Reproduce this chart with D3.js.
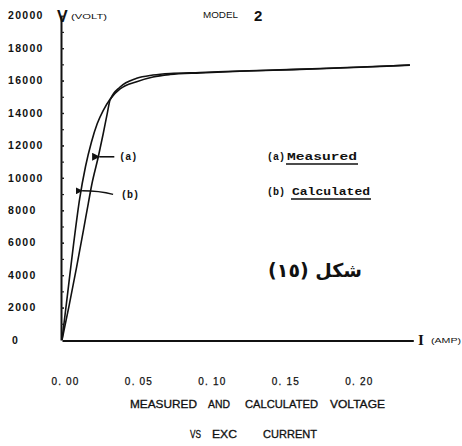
<!DOCTYPE html>
<html>
<head>
<meta charset="utf-8">
<script src="https://cdn.jsdelivr.net/npm/d3@7"></script>
<style>
  html, body { margin: 0; padding: 0; background: #fff; }
  svg { display: block; }
  text { fill: #111; }
</style>
</head>
<body>
<svg id="chart" width="462" height="446"></svg>
<script>
// Excitation current (A) and terminal voltage (V) for model 2
const measuredCurrent = [0, 0.0048, 0.0100, 0.0146, 0.0179, 0.0202, 0.0247, 0.0281, 0.0308, 0.0327, 0.0395, 0.0508, 0.0619, 0.0735, 0.0939, 0.1211, 0.1483, 0.1755, 0.2075, 0.2367];
const measuredVoltage = [0, 2100, 4520, 6780, 8430, 9560, 11300, 12750, 13980, 14800, 15600, 16140, 16340, 16440, 16500, 16590, 16660, 16740, 16850, 16960];

const calculatedCurrent = [0, 0.004, 0.008, 0.012, 0.016, 0.020, 0.024, 0.028, 0.0327, 0.0395, 0.0508, 0.0619, 0.0735, 0.0939, 0.1211, 0.1483, 0.1755, 0.2075, 0.2367];
const calculatedVoltage = [0, 3000, 6000, 8700, 10700, 12200, 13350, 14150, 14850, 15480, 15930, 16220, 16370, 16470, 16570, 16650, 16730, 16840, 16950];

const xTicks = [0, 0.05, 0.10, 0.15, 0.20];
const yTicks = [0, 2000, 4000, 6000, 8000, 10000, 12000, 14000, 16000, 18000, 20000];
const yMinorTicks = d3.range(1000, 20000, 1000);

// where the "(a)" / "(b)" pointers touch their curves
const pointerA = { current: 0.0247, voltage: 11300 };
const pointerB = { current: 0.0130, voltage: 9200 };

// caption words with their horizontal extents
const captionLine1 = [
  { word: "MEASURED", x0: 130, x1: 197 },
  { word: "AND", x0: 208, x1: 230 },
  { word: "CALCULATED", x0: 245, x1: 318 },
  { word: "VOLTAGE", x0: 330, x1: 385 }
];
const captionLine2 = [
  { word: "VS", x0: 190, x1: 201 },
  { word: "EXC", x0: 212, x1: 237 },
  { word: "CURRENT", x0: 263, x1: 317 }
];

const svg = d3.select("#chart");

const x = d3.scaleLinear().domain([0, 0.239]).range([62, 413.3]);
const y = d3.scaleLinear().domain([0, 20000]).range([340, 15.7]);

// y axis: line with small inward ticks every 1000 V
const yAxis = d3.axisRight(y)
  .tickValues(yMinorTicks.concat(yTicks.filter(d => d > 0)))
  .tickSize(3).tickSizeOuter(0).tickFormat("");
const gy = svg.append("g").attr("transform", "translate(61,0)").call(yAxis);
gy.select(".domain").attr("stroke", "#111").attr("stroke-width", 2);
gy.selectAll(".tick line").attr("stroke", "#222").attr("stroke-width", 1.2);

svg.append("g").selectAll("text").data(yTicks).join("text")
  .attr("x", d => d === 0 ? 12 : 8)
  .attr("y", d => y(d))
  .attr("dy", "0.35em")
  .attr("font-family", "Liberation Sans, Arial, sans-serif")
  .attr("font-weight", "bold")
  .attr("font-size", 10.5)
  .attr("letter-spacing", 1.3)
  .text(d => d);

// x axis
const xAxis = d3.axisBottom(x).tickValues(xTicks).tickSize(0).tickSizeOuter(0)
  .tickFormat(d => d3.format(".2f")(d).replace(".", ". "));
const gx = svg.append("g").attr("transform", "translate(0,340.5)").call(xAxis);
gx.select(".domain").attr("stroke", "#111").attr("stroke-width", 2);
gx.selectAll(".tick text")
  .attr("x", 3)
  .attr("y", 41)
  .attr("dy", "0.35em")
  .attr("font-family", "Liberation Sans, Arial, sans-serif")
  .attr("font-size", 10)
  .attr("letter-spacing", 1.2)
  .attr("fill", "#111")
  .attr("stroke", "#111").attr("stroke-width", 0.25);

// curves
const line = d3.line()
  .x(d => x(d[0]))
  .y(d => y(d[1]))
  .curve(d3.curveMonotoneX);

const measured = measuredCurrent.map((c, i) => [c, measuredVoltage[i]]);
const calculated = calculatedCurrent.map((c, i) => [c, calculatedVoltage[i]]);

svg.append("path").datum(calculated)
  .attr("d", line).attr("fill", "none")
  .attr("stroke", "#111").attr("stroke-width", 1.6);
svg.append("path").datum(measured)
  .attr("d", line).attr("fill", "none")
  .attr("stroke", "#111").attr("stroke-width", 1.6);

// pointers
svg.append("defs").append("marker")
  .attr("id", "head").attr("viewBox", "0 0 10 10")
  .attr("refX", 1).attr("refY", 5)
  .attr("markerWidth", 5).attr("markerHeight", 5)
  .attr("orient", "auto-start-reverse")
  .append("path").attr("d", "M0,5 L10,0 L10,10 Z").attr("fill", "#111");

const mono = "Liberation Mono, Courier New, monospace";

const ax = x(pointerA.current), ay = y(pointerA.voltage);
svg.append("line")
  .attr("x1", ax + 1).attr("y1", ay).attr("x2", ax + 16).attr("y2", ay)
  .attr("stroke", "#111").attr("stroke-width", 1.6)
  .attr("marker-start", "url(#head)");
svg.append("text").attr("x", ax + 21).attr("y", ay).attr("dy", "0.35em")
  .attr("font-family", mono)
  .attr("font-weight", "bold").attr("font-size", 10).text("(a)");

const bx = x(pointerB.current), by = y(pointerB.voltage);
svg.append("path")
  .attr("d", `M${bx + 1},${by} Q${bx + 18},${by} ${bx + 32},${by + 3.5}`)
  .attr("fill", "none").attr("stroke", "#111").attr("stroke-width", 1.4)
  .attr("marker-start", "url(#head)");
svg.append("text").attr("x", bx + 40).attr("y", by + 4).attr("dy", "0.35em")
  .attr("font-family", mono)
  .attr("font-weight", "bold").attr("font-size", 10).text("(b)");

// legend
function legendRow(key, name, top, x0, nameStart, nameLen) {
  svg.append("text").attr("x", x0).attr("y", top).attr("dy", "0.35em")
    .attr("font-family", mono).attr("font-weight", "bold").attr("font-size", 10)
    .text(key);
  svg.append("text").attr("x", nameStart).attr("y", top).attr("dy", "0.35em")
    .attr("font-family", mono).attr("font-weight", "bold").attr("font-size", 10.5)
    .attr("textLength", nameLen).attr("lengthAdjust", "spacingAndGlyphs")
    .text(name);
  svg.append("line")
    .attr("x1", nameStart - 1).attr("x2", nameStart + nameLen + 1)
    .attr("y1", top + 8).attr("y2", top + 8)
    .attr("stroke", "#111").attr("stroke-width", 1.5);
}
legendRow("(a)", "Measured", 156, 267, 287, 70);
legendRow("(b)", "Calculated", 191, 267, 292, 78);

// figure caption in Arabic
svg.append("text")
  .attr("x", 362).attr("y", 270).attr("dy", "0.35em")
  .attr("text-anchor", "start")
  .attr("direction", "rtl")
  .attr("font-family", "DejaVu Sans, Noto Sans, sans-serif")
  .attr("font-weight", "bold").attr("font-size", 19)
  .text("شكل (١٥)");

// axis titles
const sans = "Liberation Sans, Arial, sans-serif";
svg.append("text").attr("x", 57).attr("y", 16).attr("dy", "0.35em")
  .attr("font-family", sans)
  .attr("font-weight", "bold").attr("font-size", 16).text("V");
svg.append("text").attr("x", 71).attr("y", 16).attr("dy", "0.35em")
  .attr("font-family", sans)
  .attr("font-size", 8).attr("textLength", 36).attr("lengthAdjust", "spacingAndGlyphs")
  .text("(VOLT)");

svg.append("text").attr("x", 203).attr("y", 15).attr("dy", "0.35em")
  .attr("font-family", sans)
  .attr("font-size", 8.5).attr("textLength", 35).attr("lengthAdjust", "spacingAndGlyphs")
  .text("MODEL");
svg.append("text").attr("x", 254).attr("y", 16).attr("dy", "0.35em")
  .attr("font-family", sans)
  .attr("font-weight", "bold").attr("font-size", 15).text("2");

svg.append("text").attr("x", 418).attr("y", 340).attr("dy", "0.35em")
  .attr("font-family", "Liberation Serif, serif")
  .attr("font-weight", "bold").attr("font-size", 15).text("I");
svg.append("text").attr("x", 431).attr("y", 340).attr("dy", "0.35em")
  .attr("font-family", sans)
  .attr("font-size", 8).attr("textLength", 30).attr("lengthAdjust", "spacingAndGlyphs")
  .text("(AMP)");

// caption below the plot
function captionLine(words, top) {
  svg.append("g").selectAll("text").data(words).join("text")
    .attr("x", d => d.x0).attr("y", top).attr("dy", "0.35em")
    .attr("font-family", sans)
    .attr("font-size", 10.5)
    .attr("stroke", "#111").attr("stroke-width", 0.3)
    .attr("textLength", d => d.x1 - d.x0)
    .attr("lengthAdjust", "spacingAndGlyphs")
    .text(d => d.word);
}
captionLine(captionLine1, 404);
captionLine(captionLine2, 434);
</script>
</body>
</html>
